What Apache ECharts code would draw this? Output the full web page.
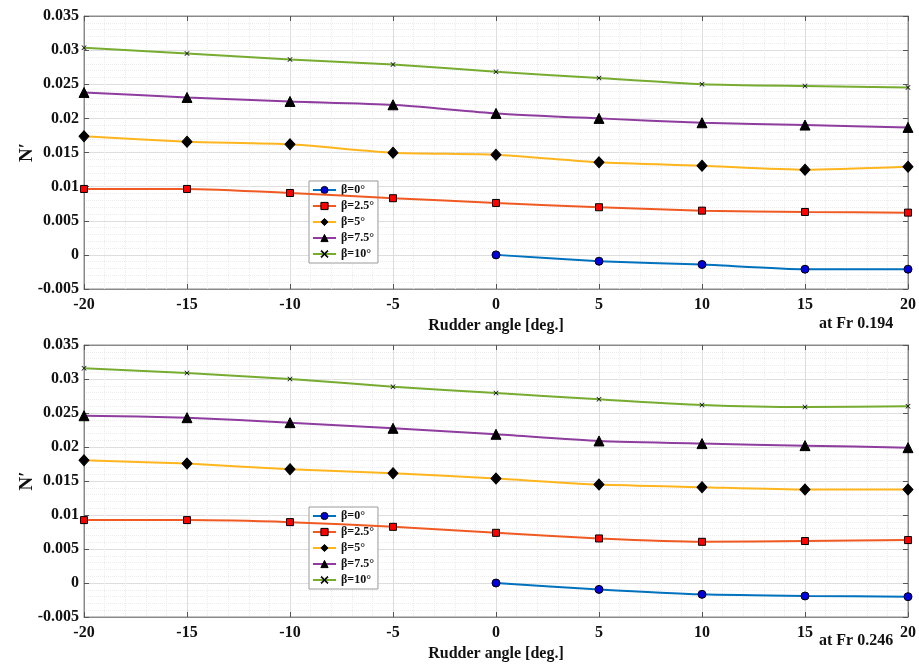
<!DOCTYPE html>
<html>
<head>
<meta charset="utf-8">
<script src="https://cdn.jsdelivr.net/npm/echarts@6/dist/echarts.min.js"></script>
<style>
  html, body { margin: 0; padding: 0; background: #fff; }
  #chart { width: 919px; height: 665px; }
</style>
</head>
<body>
<div id="chart"></div>
<script>
// Rudder angle sweep (deg.)
const rudderAngles = [-20, -15, -10, -5, 0, 5, 10, 15, 20];

// Yaw moment N' at Fr 0.194
const fr194_b0   = [null, null, null, null, 0, -0.00093, -0.00141, -0.0021, -0.0021];
const fr194_b25  = [0.00966, 0.00966, 0.00907, 0.0083, 0.00761, 0.00698, 0.00648, 0.00629, 0.00619];
const fr194_b5   = [0.01737, 0.01658, 0.0162, 0.01497, 0.01467, 0.01356, 0.01306, 0.01248, 0.01292];
const fr194_b75  = [0.0238, 0.02307, 0.02248, 0.02199, 0.02073, 0.0200, 0.01936, 0.01902, 0.01868];
const fr194_b10  = [0.03033, 0.02951, 0.02863, 0.0279, 0.02682, 0.0259, 0.0250, 0.02473, 0.02453];

// Yaw moment N' at Fr 0.246
const fr246_b0   = [null, null, null, null, 0, -0.00094, -0.00167, -0.00191, -0.00201];
const fr246_b25  = [0.00925, 0.00925, 0.00895, 0.00826, 0.00738, 0.00655, 0.00606, 0.00617, 0.00631];
const fr246_b5   = [0.01805, 0.01756, 0.01673, 0.01615, 0.01536, 0.01447, 0.01409, 0.01374, 0.01374];
const fr246_b75  = [0.0246, 0.02431, 0.02358, 0.02275, 0.02187, 0.02089, 0.0205, 0.0202, 0.0199];
const fr246_b10  = [0.03157, 0.03088, 0.030, 0.02887, 0.02794, 0.02701, 0.02618, 0.02588, 0.02598];

const betaNames = ['β=0°', 'β=2.5°', 'β=5°', 'β=7.5°', 'β=10°'];
const panelNotes = ['at Fr 0.194', 'at Fr 0.246'];

const FONT = "'Liberation Serif', 'Times New Roman', serif";
const crossPath = 'path://M0,1 L1,0 L5,4 L9,0 L10,1 L6,5 L10,9 L9,10 L5,6 L1,10 L0,9 L4,5 Z';

// Line colour, marker shape, marker size and marker fill per beta
const seriesStyles = [
  { line: '#0072BD', symbol: 'circle',   size: 8,       fill: '#0000DD' },
  { line: '#F05A22', symbol: 'rect',     size: 7,       fill: '#FF0000' },
  { line: '#FFB61E', symbol: 'diamond',  size: [10, 11], fill: '#000000' },
  { line: '#8E3C9E', symbol: 'triangle', size: 10,      fill: '#000000' },
  { line: '#77AC30', symbol: crossPath,  size: 5,       fill: '#000000' }
];

const panels = [
  [fr194_b0, fr194_b25, fr194_b5, fr194_b75, fr194_b10],
  [fr246_b0, fr246_b25, fr246_b5, fr246_b75, fr246_b10]
];

const grids = [
  { left: 84, right: 9, top: 16, height: 273 },
  { left: 84, right: 9, top: 345, height: 272 }
];

const fmtY = v => String(parseFloat(v.toFixed(4)));

const xAxes = [], yAxes = [], series = [], legends = [], titles = [];

grids.forEach((g, gi) => {
  // main bottom axis
  xAxes.push({
    type: 'value', gridIndex: gi, min: -20, max: 20, interval: 5,
    name: 'Rudder angle [deg.]', nameLocation: 'middle', nameGap: 29, nameMoveOverlap: false,
    nameTextStyle: { fontFamily: FONT, fontWeight: 'bold', fontSize: 16, color: '#111' },
    axisLine: { show: true, onZero: false, lineStyle: { color: '#8a8a8a', width: 1 } },
    axisTick: { show: true, inside: true, length: 5, lineStyle: { color: '#555' } },
    axisLabel: { fontFamily: FONT, fontWeight: 'bold', fontSize: 16, color: '#111', margin: 8 },
    splitLine: { show: true, lineStyle: { color: '#dedede', width: 1 } },
    minorTick: { show: true, splitNumber: 5, length: 0 },
    minorSplitLine: { show: true, lineStyle: { color: '#ececec', width: 1, type: 'dotted' } }
  });
  // top axis carrying inward ticks on the upper frame
  xAxes.push({
    type: 'value', gridIndex: gi, position: 'top', min: -20, max: 20, interval: 5,
    axisLine: { show: true, onZero: false, lineStyle: { color: '#8a8a8a', width: 1 } },
    axisTick: { show: true, inside: true, length: 5, lineStyle: { color: '#555' } },
    axisLabel: { show: false }, splitLine: { show: false }
  });
  yAxes.push({
    type: 'value', gridIndex: gi, min: -0.005, max: 0.035, interval: 0.005,
    name: 'N′', nameLocation: 'middle', nameGap: 47, nameRotate: 90, nameMoveOverlap: false,
    nameTextStyle: { fontFamily: FONT, fontWeight: 'bold', fontSize: 19, color: '#111' },
    axisLine: { show: true, onZero: false, lineStyle: { color: '#8a8a8a', width: 1 } },
    axisTick: { show: true, inside: true, length: 5, lineStyle: { color: '#555' } },
    axisLabel: { fontFamily: FONT, fontWeight: 'bold', fontSize: 16, color: '#111', margin: 5, formatter: fmtY },
    splitLine: { show: true, lineStyle: { color: '#dedede', width: 1 } },
    minorTick: { show: true, splitNumber: 5, length: 0 },
    minorSplitLine: { show: true, lineStyle: { color: '#ececec', width: 1, type: 'dotted' } }
  });
  // right axis carrying inward ticks on the right frame
  yAxes.push({
    type: 'value', gridIndex: gi, position: 'right', min: -0.005, max: 0.035, interval: 0.005,
    axisLine: { show: true, onZero: false, lineStyle: { color: '#8a8a8a', width: 1 } },
    axisTick: { show: true, inside: true, length: 5, lineStyle: { color: '#555' } },
    axisLabel: { show: false }, splitLine: { show: false }
  });

  panels[gi].forEach((vals, si) => {
    const st = seriesStyles[si];
    const pts = [];
    rudderAngles.forEach((a, k) => { if (vals[k] !== null) pts.push([a, vals[k]]); });
    series.push({
      type: 'line', name: betaNames[si],
      xAxisIndex: gi * 2, yAxisIndex: gi * 2,
      data: pts, smooth: 0.2,
      symbol: st.symbol, symbolSize: st.size, showAllSymbol: true,
      lineStyle: { color: st.line, width: 2 },
      itemStyle: { color: st.fill, borderColor: '#000', borderWidth: st.symbol === crossPath ? 0 : 1 },
      emphasis: { disabled: true },
      z: 3 + si
    });
  });

  legends.push({
    orient: 'vertical',
    left: 309, top: g.top + (gi === 0 ? 165 : 162),
    padding: [3, 4, 3, 3],
    itemWidth: 23, itemHeight: 9, itemGap: 4,
    backgroundColor: '#ffffff', borderColor: '#9a9a9a', borderWidth: 1,
    data: betaNames,
    itemStyle: { borderWidth: 1 },
    textStyle: { fontFamily: FONT, fontWeight: 'bold', fontSize: 12, color: '#111', lineHeight: 12, padding: [0, 0, 0, 0] },
    selectedMode: false
  });

  titles.push({
    text: panelNotes[gi],
    left: 819, top: gi === 0 ? 316 : 633,
    padding: 0,
    textStyle: { fontFamily: FONT, fontWeight: 'bold', fontSize: 16, color: '#111' }
  });
});

const chart = echarts.init(document.getElementById('chart'), null, { renderer: 'canvas' });
chart.setOption({
  animation: false,
  backgroundColor: '#ffffff',
  title: titles,
  legend: legends,
  grid: grids.map(g => Object.assign({ show: true, borderColor: '#8a8a8a', borderWidth: 1, backgroundColor: '#fff' }, g)),
  xAxis: xAxes,
  yAxis: yAxes,
  series: series
});
</script>
</body>
</html>
